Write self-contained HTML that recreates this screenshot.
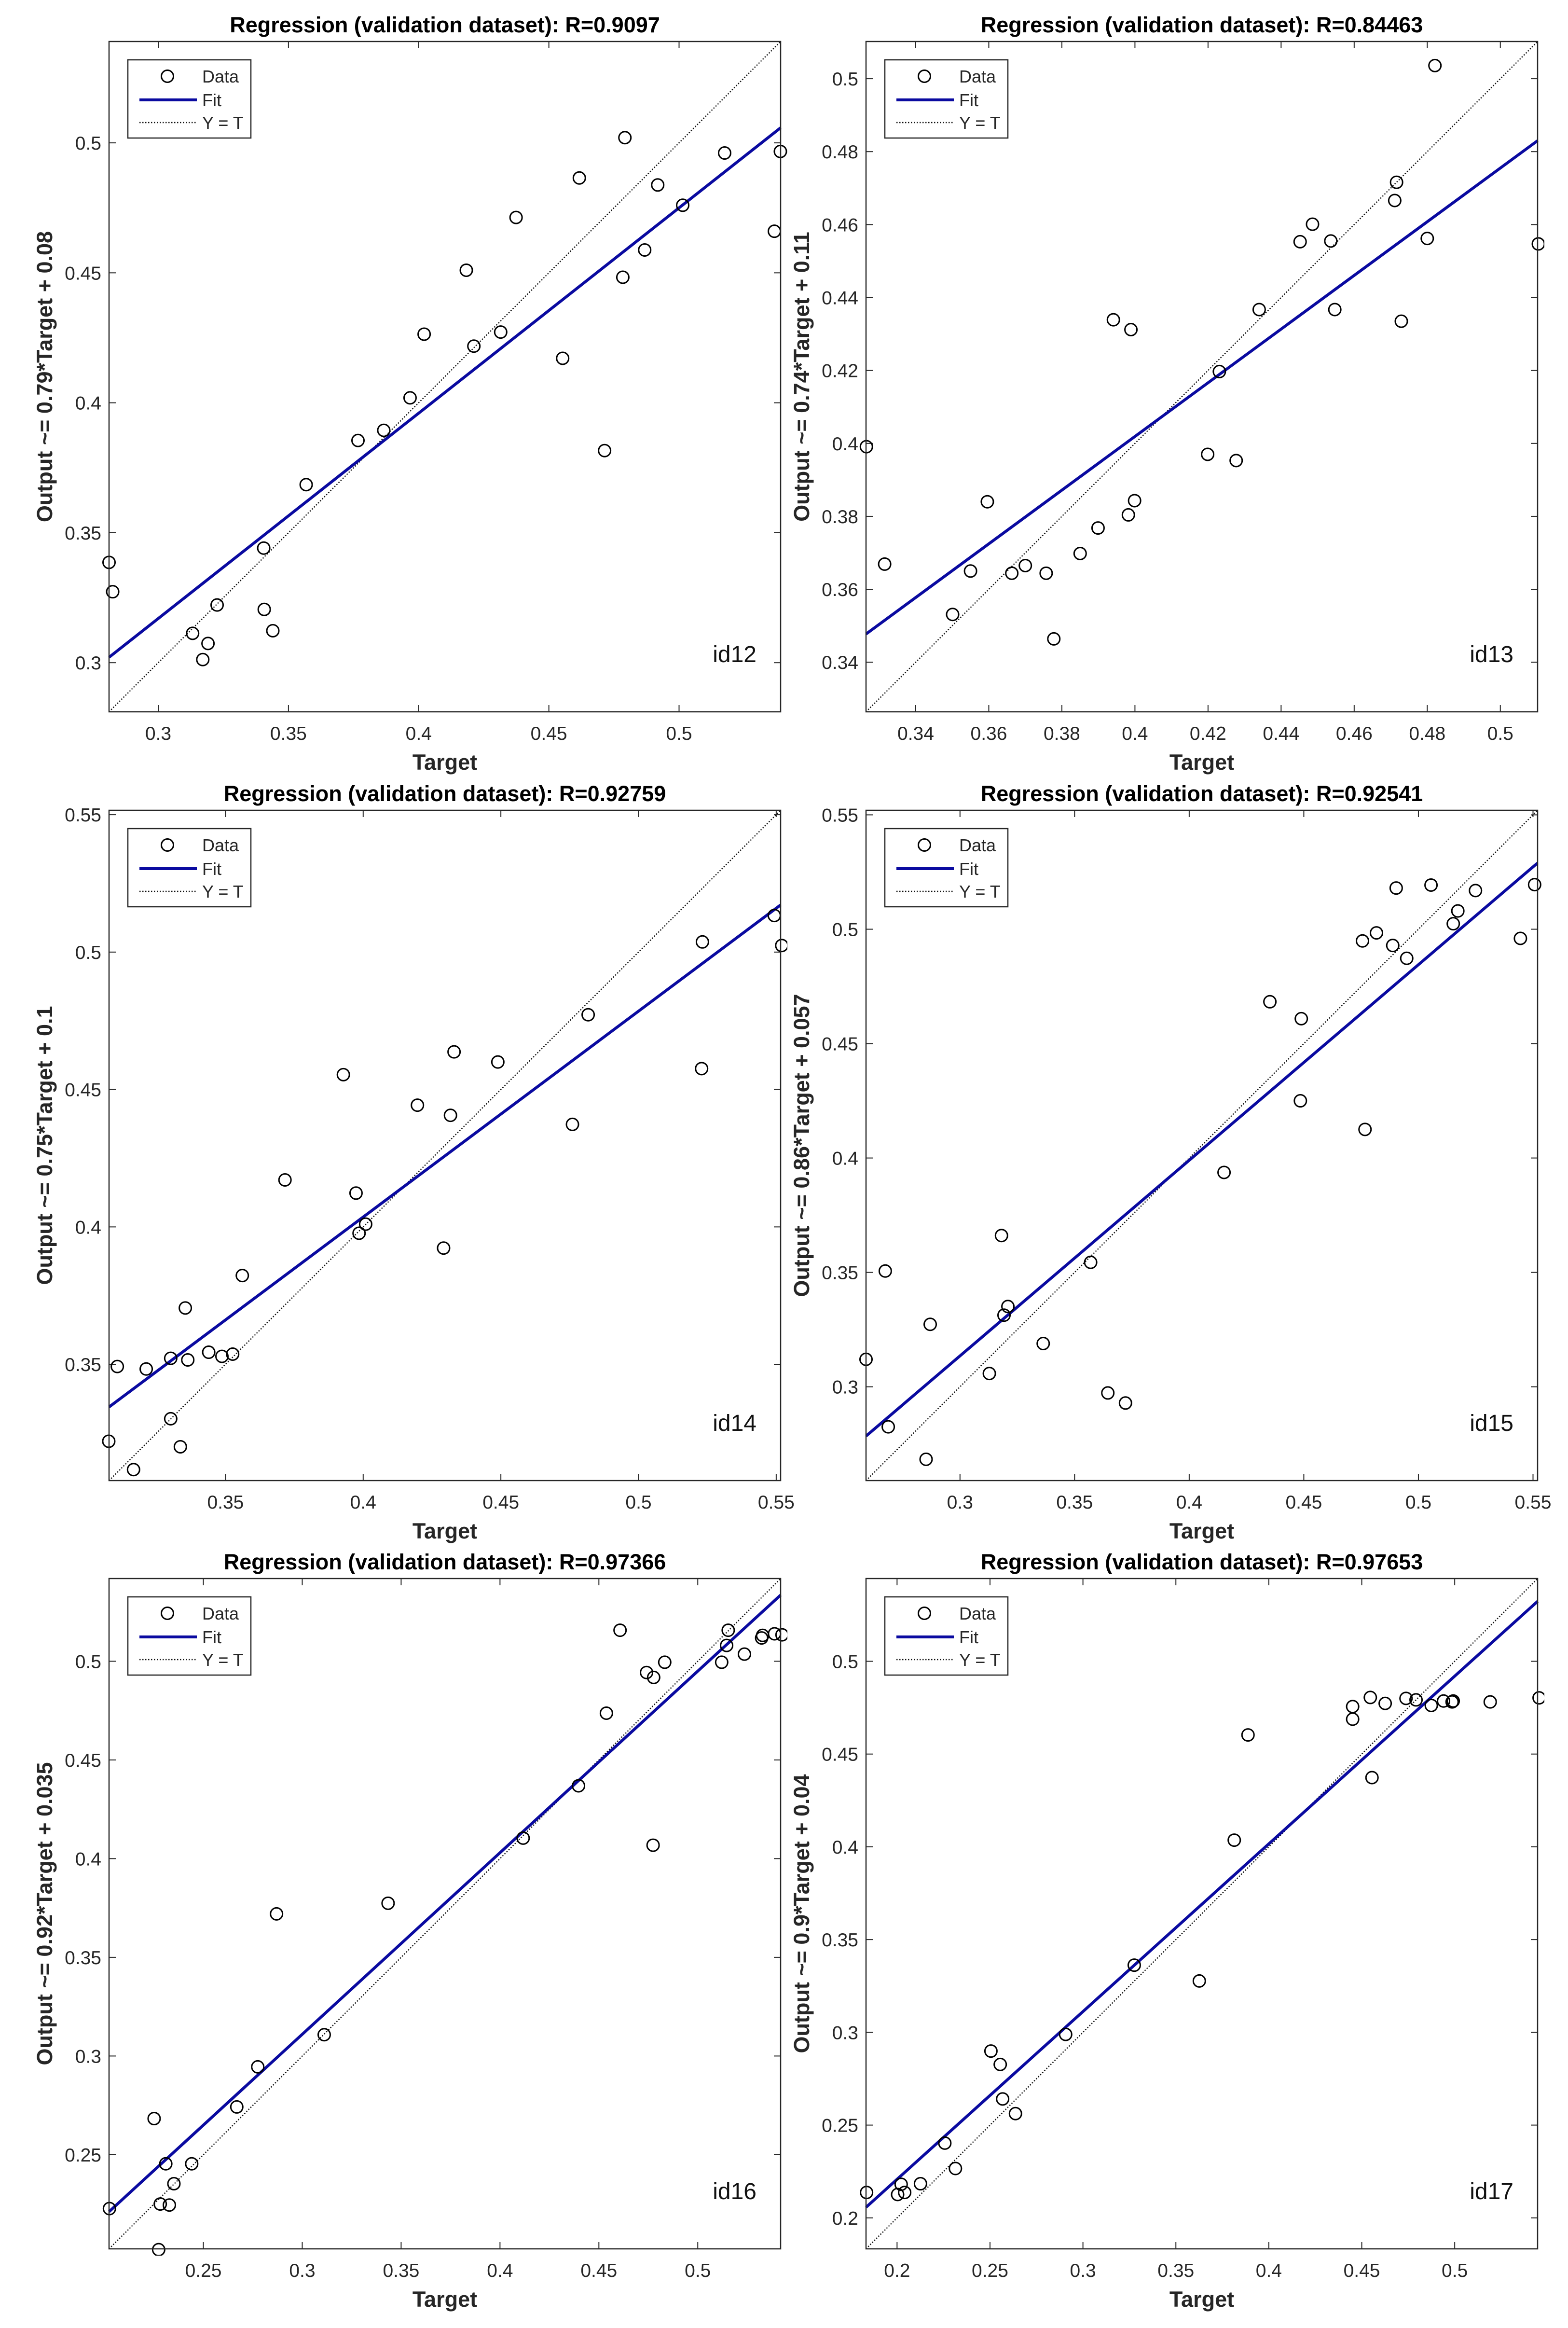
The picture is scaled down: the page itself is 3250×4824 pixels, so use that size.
<!DOCTYPE html>
<html><head><meta charset="utf-8"><title>Regression plots</title>
<style>
html,body{margin:0;padding:0;background:#fff;}
svg{display:block;}
text{font-family:"Liberation Sans",Arial,sans-serif;}
</style></head>
<body>
<svg id="fig" xmlns="http://www.w3.org/2000/svg" width="3250" height="4824" viewBox="0 0 3250 4824">
<rect x="0" y="0" width="3250" height="4824" fill="#fff"/>
</svg>
<script>
// ---------- data ----------
const id12_target=[0.2811,0.2825,0.3132,0.3191,0.3171,0.3226,0.3405,0.3407,0.3440,0.3568,0.3767,0.3866,0.3967,0.4021,0.4183,0.4212,0.4315,0.4374,0.4553,0.4617,0.4714,0.4784,0.4792,0.4868,0.4918,0.5014,0.5175,0.5366,0.5389];
const id12_output=[0.3386,0.3273,0.3113,0.3074,0.3012,0.3222,0.3441,0.3205,0.3123,0.3685,0.3855,0.3894,0.4019,0.4264,0.4510,0.4218,0.4272,0.4713,0.4171,0.4865,0.3816,0.4483,0.5020,0.4588,0.4838,0.4760,0.4961,0.4660,0.4967];
const id13_target=[0.3265,0.3315,0.3501,0.3550,0.3596,0.3663,0.3700,0.3757,0.3778,0.3850,0.3899,0.3941,0.3982,0.3989,0.3999,0.4199,0.4231,0.4277,0.4340,0.4452,0.4486,0.4536,0.4547,0.4711,0.4716,0.4729,0.4800,0.4821,0.5104];
const id13_output=[0.3991,0.3669,0.3531,0.3650,0.3840,0.3644,0.3665,0.3644,0.3464,0.3698,0.3768,0.4339,0.3804,0.4312,0.3843,0.3970,0.4197,0.3953,0.4367,0.4553,0.4601,0.4555,0.4367,0.4666,0.4716,0.4335,0.4562,0.5036,0.4547];
const id14_target=[0.3076,0.3107,0.3166,0.3212,0.3301,0.3301,0.3336,0.3354,0.3363,0.3439,0.3487,0.3526,0.3561,0.3716,0.3928,0.3974,0.3985,0.4009,0.4197,0.4292,0.4317,0.4330,0.4489,0.4760,0.4817,0.5229,0.5232,0.5493,0.5520];
const id14_output=[0.3220,0.3492,0.3117,0.3483,0.3522,0.3302,0.3200,0.3705,0.3516,0.3544,0.3529,0.3537,0.3823,0.4171,0.4554,0.4123,0.3977,0.4010,0.4443,0.3923,0.4406,0.4637,0.4600,0.4373,0.4772,0.4576,0.5037,0.5133,0.5024];
const id15_target=[0.2590,0.2674,0.2687,0.2852,0.2870,0.3128,0.3181,0.3192,0.3209,0.3363,0.3570,0.3645,0.3722,0.4152,0.4352,0.4485,0.4489,0.4756,0.4767,0.4817,0.4888,0.4903,0.4949,0.5055,0.5152,0.5172,0.5249,0.5445,0.5507];
const id15_output=[0.3120,0.3506,0.2825,0.2683,0.3273,0.3058,0.3661,0.3313,0.3351,0.3189,0.3544,0.2973,0.2929,0.3937,0.4683,0.4250,0.4609,0.4949,0.4125,0.4984,0.4929,0.5180,0.4873,0.5193,0.5024,0.5080,0.5169,0.4960,0.5195];
const id16_target=[0.2025,0.2251,0.2274,0.2282,0.2310,0.2328,0.2351,0.2441,0.2669,0.2775,0.2870,0.3111,0.3434,0.4117,0.4397,0.4538,0.4607,0.4741,0.4777,0.4774,0.4833,0.5121,0.5146,0.5154,0.5236,0.5323,0.5328,0.5388,0.5426];
const id16_output=[0.2227,0.2683,0.2019,0.2250,0.2454,0.2245,0.2353,0.2454,0.2742,0.2945,0.3720,0.3108,0.3774,0.4104,0.4369,0.4737,0.5157,0.4943,0.4918,0.4068,0.4995,0.4995,0.5080,0.5157,0.5036,0.5118,0.5131,0.5139,0.5134];
const id17_target=[0.1836,0.2003,0.2022,0.2041,0.2126,0.2257,0.2314,0.2505,0.2555,0.2568,0.2637,0.2907,0.3276,0.3626,0.3814,0.3888,0.4451,0.4451,0.4555,0.4546,0.4626,0.4738,0.4792,0.4874,0.4940,0.4986,0.4992,0.5191,0.5454];
const id17_output=[0.2137,0.2126,0.2181,0.2137,0.2184,0.2403,0.2266,0.2899,0.2827,0.2641,0.2562,0.2989,0.3362,0.3277,0.4036,0.4603,0.4688,0.4756,0.4373,0.4805,0.4773,0.4800,0.4792,0.4762,0.4786,0.4781,0.4786,0.4781,0.4803];

const panelIds=["id12","id13","id14","id15","id16","id17"];
const rValues=["0.9097","0.84463","0.92759","0.92541","0.97366","0.97653"];
const fitSlopes=[0.79,0.736,0.749,0.855,0.92,0.904];
const fitIntercepts=[0.08,0.1075,0.104,0.057,0.035,0.04];
const fitLabels=["Output ~= 0.79*Target + 0.08","Output ~= 0.74*Target + 0.11","Output ~= 0.75*Target + 0.1","Output ~= 0.86*Target + 0.057","Output ~= 0.92*Target + 0.035","Output ~= 0.9*Target + 0.04"];
const axisMin=[0.2811,0.3264,0.3077,0.259,0.2023,0.1833];
const axisMax=[0.539,0.5102,0.5516,0.552,0.5419,0.5446];
const id12_ticks=[0.3,0.35,0.4,0.45,0.5];
const id13_ticks=[0.34,0.36,0.38,0.4,0.42,0.44,0.46,0.48,0.5];
const id14_ticks=[0.35,0.4,0.45,0.5,0.55];
const id15_ticks=[0.3,0.35,0.4,0.45,0.5,0.55];
const id16_ticks=[0.25,0.3,0.35,0.4,0.45,0.5];
const id17_ticks=[0.2,0.25,0.3,0.35,0.4,0.45,0.5];

const targets=[id12_target,id13_target,id14_target,id15_target,id16_target,id17_target];
const outputs=[id12_output,id13_output,id14_output,id15_output,id16_output,id17_output];
const tickSets=[id12_ticks,id13_ticks,id14_ticks,id15_ticks,id16_ticks,id17_ticks];

// ---------- drawing ----------
const NS="http://www.w3.org/2000/svg";
const svg=document.getElementById('fig');
function mk(tag,attrs,parent){const e=document.createElementNS(NS,tag);for(const k in attrs)e.setAttribute(k,attrs[k]);(parent||svg).appendChild(e);return e;}
function fmt(v){return String(parseFloat(v.toFixed(4)));}

const colLeft=[226,1795], boxW=1392;
const rowTop=[86,1679,3271], boxH=1389;

panelIds.forEach((pid,i)=>{
  const L=colLeft[i%2], T=rowTop[Math.floor(i/2)], R=L+boxW, B=T+boxH;
  const lo=axisMin[i], hi=axisMax[i];
  const sx=v=>L+(v-lo)/(hi-lo)*boxW;
  const sy=v=>B-(v-lo)/(hi-lo)*boxH;
  const g=mk('g',{});
  
  
  const clipId='clip-'+pid;
  const cp=mk('clipPath',{id:clipId},g);
  mk('rect',{x:L-14,y:T-14,width:boxW+28,height:boxH+28},cp);

  const title=mk('text',{x:(L+R)/2,y:T-19,'text-anchor':'middle','font-size':45,'font-weight':'bold',fill:'#000'},g);
  title.textContent='Regression (validation dataset): R='+rValues[i];
  
  

  const ticks=tickSets[i];
  ticks.forEach(t=>{
    const x=sx(t), y=sy(t);
    mk('line',{x1:x,y1:B,x2:x,y2:B-14,stroke:'#262626','stroke-width':2},g);
    mk('line',{x1:x,y1:T,x2:x,y2:T+14,stroke:'#262626','stroke-width':2},g);
    mk('line',{x1:L,y1:y,x2:L+14,y2:y,stroke:'#262626','stroke-width':2},g);
    mk('line',{x1:R,y1:y,x2:R-14,y2:y,stroke:'#262626','stroke-width':2},g);
    const xl=mk('text',{x:x,y:B+58,'text-anchor':'middle','font-size':39,fill:'#262626'},g);
    xl.textContent=fmt(t);
    
    
    const yl=mk('text',{x:L-16,y:y+14,'text-anchor':'end','font-size':39,fill:'#262626'},g);
    yl.textContent=fmt(t);
    
    
  });

  const xt=mk('text',{x:(L+R)/2,y:B+120,'text-anchor':'middle','font-size':45,'font-weight':'bold',fill:'#262626'},g);
  xt.textContent='Target';
  
  
  const yt=mk('text',{x:0,y:0,'text-anchor':'middle','font-size':45,'font-weight':'bold',fill:'#262626',transform:'translate('+(L-118)+','+((T+B)/2)+') rotate(-90)'},g);
  yt.textContent=fitLabels[i];
  
  

  const pg=mk('g',{'clip-path':'url(#'+clipId+')'},g);
  const d=mk('line',{x1:sx(lo),y1:sy(lo),x2:sx(hi),y2:sy(hi),stroke:'#111','stroke-width':2.5,'stroke-dasharray':'2.5,3.5'},pg);
  
  
  const a=fitSlopes[i], b=fitIntercepts[i];
  const f=mk('line',{x1:sx(lo),y1:sy(a*lo+b),x2:sx(hi),y2:sy(a*hi+b),stroke:'#0a0aa0','stroke-width':6},pg);
  
  
  targets[i].forEach((t,k)=>{
    const c=mk('circle',{cx:sx(t),cy:sy(outputs[i][k]),r:12.5,fill:'none',stroke:'#000','stroke-width':3},pg);
    
    
  });

  const bx=mk('rect',{x:L,y:T,width:boxW,height:boxH,fill:'none',stroke:'#262626','stroke-width':2.5},g);
  
  

  const il=mk('text',{x:R-50,y:B-103,'text-anchor':'end','font-size':48,fill:'#111'},g);
  il.textContent=pid;
  
  

  const lx=L+39, ly=T+38;
  const lg=mk('g',{},g);
  
  
  mk('rect',{x:lx,y:ly,width:255,height:162,fill:'#fff',stroke:'#262626','stroke-width':2.5},lg);
  mk('circle',{cx:lx+82,cy:ly+34,r:12.5,fill:'none',stroke:'#000','stroke-width':3},lg);
  mk('line',{x1:lx+24,y1:ly+83,x2:lx+143,y2:ly+83,stroke:'#0a0aa0','stroke-width':6},lg);
  mk('line',{x1:lx+24,y1:ly+130,x2:lx+143,y2:ly+130,stroke:'#111','stroke-width':2.5,'stroke-dasharray':'2.5,3.5'},lg);
  const labels=['Data','Fit','Y = T'];
  const names=['legend-entry-data','legend-entry-fit','legend-entry-identity'];
  [34,83,130].forEach((yy,k)=>{
    const tx=mk('text',{x:lx+154,y:ly+yy+13,'font-size':36,fill:'#262626'},lg);
    tx.textContent=labels[k];
    
    
  });
});
</script>
</body></html>
